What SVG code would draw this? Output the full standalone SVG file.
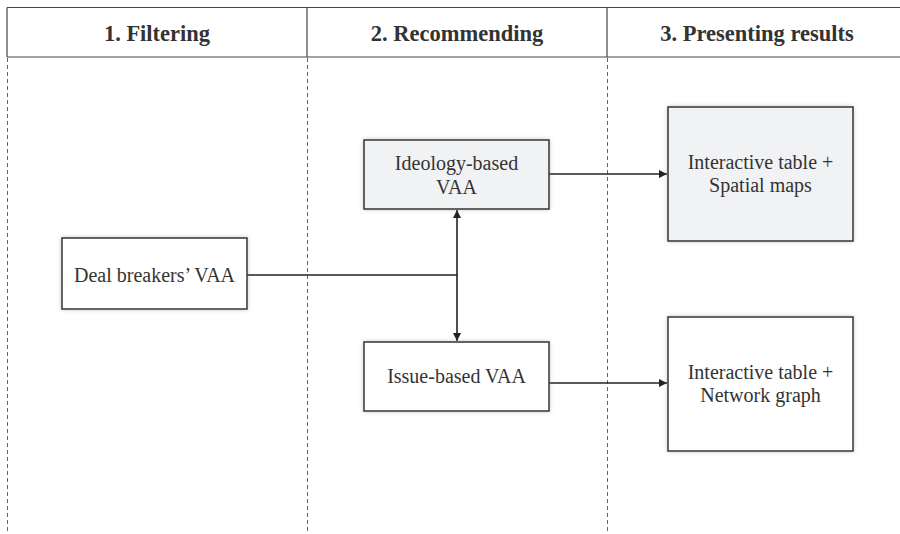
<svg xmlns="http://www.w3.org/2000/svg" width="900" height="534" viewBox="0 0 900 534">
<defs>
<filter id="sh" x="-10%" y="-10%" width="120%" height="120%">
<feDropShadow dx="0" dy="0" stdDeviation="2" flood-color="#888" flood-opacity="0.45"/>
</filter>
<marker id="ah" viewBox="0 0 10 10" refX="10" refY="5" markerWidth="8" markerHeight="8" markerUnits="userSpaceOnUse" orient="auto-start-reverse">
<path d="M0,0 L10,5 L0,10 z" fill="#222"/>
</marker>
</defs>
<style>
.hdr{font-family:"Liberation Serif","Times New Roman",serif;font-weight:bold;font-size:22.5px;fill:#333;text-anchor:middle}
.txt{font-family:"Liberation Serif","Times New Roman",serif;font-size:20px;fill:#333;text-anchor:middle}
.box{stroke:#333;stroke-width:1.5;filter:url(#sh)}
.w{fill:#fff}
.g{fill:#f1f2f4}
.dash{stroke:#666;stroke-width:1;stroke-dasharray:4 3;fill:none}
.edge{stroke:#222;stroke-width:1.6;fill:none}
</style>
<rect width="900" height="534" fill="#fff"/>
<g id="header">
<path d="M7,7.5 H905 M7,57 H905 M7,7.5 V57 M307,7.5 V57 M607,7.5 V57" stroke="#444" stroke-width="1.2" fill="none"/>
<text class="hdr" x="157" y="41">1. Filtering</text>
<text class="hdr" x="457" y="41">2. Recommending</text>
<text class="hdr" x="757" y="41">3. Presenting results</text>
</g>
<g id="lanes">
<line class="dash" x1="7.5" y1="58" x2="7.5" y2="534"/>
<line class="dash" x1="307.5" y1="58" x2="307.5" y2="534"/>
<line class="dash" x1="607.5" y1="58" x2="607.5" y2="534"/>
</g>
<g id="connectors">
<line class="edge" x1="247" y1="275" x2="457" y2="275"/>
<line class="edge" x1="457" y1="210" x2="457" y2="341" marker-start="url(#ah)" marker-end="url(#ah)"/>
<line class="edge" x1="549" y1="174" x2="667" y2="174" marker-end="url(#ah)"/>
<line class="edge" x1="549" y1="383" x2="667" y2="383" marker-end="url(#ah)"/>
</g>
<g id="deal-breakers">
<rect class="box w" x="62" y="238" width="185" height="71"/>
<text class="txt" x="154.5" y="282">Deal breakers’ VAA</text>
</g>
<g id="ideology">
<rect class="box g" x="364" y="140" width="185" height="69"/>
<text class="txt" x="456.5" y="170">Ideology-based</text>
<text class="txt" x="456.5" y="194">VAA</text>
</g>
<g id="issue">
<rect class="box w" x="364" y="342" width="185" height="69"/>
<text class="txt" x="456.5" y="383">Issue-based VAA</text>
</g>
<g id="spatial">
<rect class="box g" x="668" y="107" width="185" height="134"/>
<text class="txt" x="760.5" y="169">Interactive table +</text>
<text class="txt" x="760.5" y="192">Spatial maps</text>
</g>
<g id="network">
<rect class="box w" x="668" y="317" width="185" height="134"/>
<text class="txt" x="760.5" y="379">Interactive table +</text>
<text class="txt" x="760.5" y="402">Network graph</text>
</g>
</svg>
